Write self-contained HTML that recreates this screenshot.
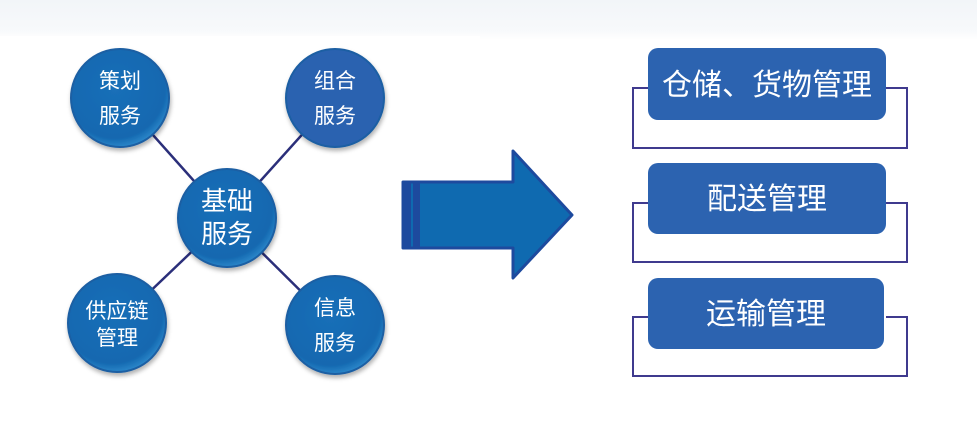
<!DOCTYPE html>
<html><head><meta charset="utf-8"><style>
body{margin:0;width:977px;height:432px;overflow:hidden;background:#fff;font-family:"Liberation Sans","Noto Sans CJK SC",sans-serif;}
.bg{position:absolute;left:0;top:0;width:977px;height:432px;background:linear-gradient(180deg,#f2f5f8 0,#f7f9fb 30px,#fff 40px);}
.w{position:absolute;left:0;top:36px;width:480px;height:396px;background:#fff;}
</style></head><body>
<div class="bg"></div><div class="w"></div>
<svg width="977" height="432" style="position:absolute;left:0;top:0">
<defs>
<radialGradient id="g" cx="0.45" cy="0.4" r="0.6"><stop offset="0" stop-color="#1a6fb8"/><stop offset="0.85" stop-color="#1468b0"/><stop offset="1" stop-color="#2a85c8"/></radialGradient>
<filter id="s"><feDropShadow dx="1" dy="3" stdDeviation="2" flood-color="#000" flood-opacity="0.3"/></filter>
</defs>
<g stroke="#2b2f7a" stroke-width="2.5">
<line x1="120" y1="98" x2="227" y2="218"/><line x1="335" y1="98" x2="227" y2="218"/>
<line x1="117" y1="323" x2="227" y2="218"/><line x1="335" y1="325" x2="227" y2="218"/>
</g>
<g filter="url(#s)" fill="url(#g)" stroke="#1c5fa3" stroke-width="2">
<circle cx="120" cy="98" r="49"/><circle cx="335" cy="98" r="49" fill="#2a62b0"/>
<circle cx="227" cy="218" r="49"/><circle cx="117" cy="323" r="49"/><circle cx="335" cy="325" r="49"/>
</g>
<g fill="#fff" font-family="Liberation Sans,Noto Sans CJK SC,sans-serif" text-anchor="middle">
<text x="120" y="88" font-size="21">策划</text><text x="120" y="123" font-size="21">服务</text>
<text x="335" y="88" font-size="21">组合</text><text x="335" y="123" font-size="21">服务</text>
<text x="227" y="210" font-size="26">基础</text><text x="227" y="243" font-size="26">服务</text>
<text x="117" y="318" font-size="21">供应链</text><text x="117" y="345" font-size="21">管理</text>
<text x="335" y="315" font-size="21">信息</text><text x="335" y="350" font-size="21">服务</text>
</g>
<path d="M403 182 H513 V151 L572 215 L513 278 V248 H403 Z" fill="#0f6ab0" stroke="#1d4a9e" stroke-width="3" stroke-linejoin="round"/>
<rect x="403" y="182" width="8" height="66" fill="#1d4a9e"/><rect x="413" y="182" width="7" height="66" fill="#1d4a9e"/>
<g fill="none" stroke="#3f3a8e" stroke-width="2">
<path d="M648 88 H633 V148 H907 V88 H886"/>
<path d="M648 203 H633 V262 H907 V203 H886"/>
<path d="M648 317 H633 V376 H907 V317 H886"/>
</g>
<g fill="#2c63b0">
<rect x="648" y="48" width="238" height="72" rx="10"/>
<rect x="648" y="163" width="238" height="71" rx="10"/>
<rect x="648" y="278" width="236" height="71" rx="10"/>
</g>
<g fill="#fff" font-size="30" text-anchor="middle" font-family="Liberation Sans,Noto Sans CJK SC,sans-serif">
<text x="767" y="95">仓储、货物管理</text>
<text x="767" y="209">配送管理</text>
<text x="766" y="324">运输管理</text>
</g>
</svg>
</body></html>
